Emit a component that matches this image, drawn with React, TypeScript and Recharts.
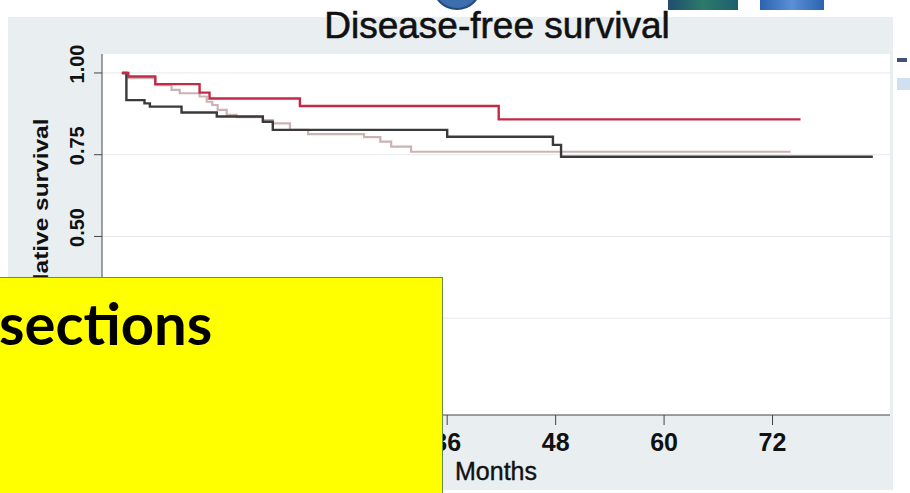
import React from 'react';
import { LineChart, Line, XAxis, YAxis, CartesianGrid } from 'recharts';

// Kaplan-Meier step data (months, cumulative survival)
const redTime = [0, 0.7, 3.7, 8.6, 9.7, 19.7, 41.7, 75.1];
const redSurv = [1, 0.989, 0.966, 0.94, 0.922, 0.899, 0.858, 0.858];

const darkTime = [0, 0.5, 2.5, 3.1, 6.6, 10.5, 15.6, 16.7, 36.0, 47.7, 48.6, 83.1];
const darkSurv = [1, 0.917, 0.907, 0.897, 0.879, 0.867, 0.851, 0.826, 0.805, 0.78, 0.744, 0.744];

const lightTime = [0, 0.7, 3.7, 5.5, 6.4, 8.6, 9.4, 10.0, 10.6, 11.6, 12.7, 15.6, 16.7, 18.6, 20.6, 26.8, 28.6, 29.8, 32.0, 74.0];
const lightSurv = [1, 0.984, 0.963, 0.948, 0.938, 0.928, 0.912, 0.902, 0.887, 0.872, 0.865, 0.856, 0.846, 0.826, 0.813, 0.804, 0.79, 0.775, 0.759, 0.759];

const xTicks = [0, 12, 24, 36, 48, 60, 72];
const yTicks = [0, 0.25, 0.5, 0.75, 1];
const gridValues = [0.25, 0.5, 0.75, 1];
// tick labels hidden behind the yellow overlay in the reference
const hiddenXLabels = [0, 12, 24];
const hiddenYLabels = [0, 0.25];

const title = 'Disease-free survival';
const yTitle = 'Cumulative survival';
const xTitle = 'Months';
const overlayText = 'sections';

const toRows = (t: number[], s: number[]) => t.map((v, i) => ({ t: v, s: s[i] }));
const redData = toRows(redTime, redSurv);
const darkData = toRows(darkTime, darkSurv);
const lightData = toRows(lightTime, lightSurv);

const FONT = '"Liberation Sans", Arial, sans-serif';

const XTick = (props: any) => {
  const { x, y, payload } = props;
  if (hiddenXLabels.includes(payload.value)) return <g />;
  return (
    <text x={x} y={y + 24} textAnchor="middle" fontFamily={FONT} fontSize={25} fontWeight="bold" fill="#111">
      {payload.value}
    </text>
  );
};

const YTick = (props: any) => {
  const { x, y, payload } = props;
  if (hiddenYLabels.includes(payload.value)) return <g />;
  const bx = x - 8;
  const by = y - 9;
  return (
    <text
      x={bx}
      y={by}
      transform={`rotate(-90, ${bx}, ${by})`}
      textAnchor="middle"
      fontFamily={FONT}
      fontSize={20}
      fontWeight="bold"
      fill="#111"
    >
      {Number(payload.value).toFixed(2)}
    </text>
  );
};

const YTitle = () => (
  <text
    x={48}
    y={234}
    transform="rotate(-90, 48, 234)"
    textAnchor="middle"
    fontFamily={FONT}
    fontSize={21}
    fontWeight="bold"
    fill="#111"
    textLength={231}
    lengthAdjust="spacingAndGlyphs"
  >
    {yTitle}
  </text>
);

const XTitle = () => (
  <text x={496} y={480} textAnchor="middle" fontFamily={FONT} fontSize={25} fill="#111" stroke="#111" strokeWidth={0.4}>
    {xTitle}
  </text>
);

export default function App() {
  return (
    <div style={{ position: 'absolute', left: 0, top: 0, width: 910, height: 493, background: '#ffffff', overflow: 'hidden' }}>
      {/* slide decorations at top */}
      <div style={{ position: 'absolute', left: 432, top: -40, width: 46, height: 46, borderRadius: '50%', background: '#3d6fae', border: '2px solid #24497a' }} />
      <div style={{ position: 'absolute', left: 668, top: 0, width: 70, height: 10, background: 'linear-gradient(90deg,#1f4e6e,#2d7a6a,#1d5f72)' }} />
      <div style={{ position: 'absolute', left: 760, top: 0, width: 64, height: 10, background: 'linear-gradient(90deg,#2a63b0,#5b8fd6,#2a63b0)' }} />
      {/* outer grey panel */}
      <div style={{ position: 'absolute', left: 8, top: 17, width: 885, height: 473, background: '#e9eef1' }} />
      {/* right strip details */}
      <div style={{ position: 'absolute', left: 897, top: 78, width: 13, height: 12, background: '#cfe0f0' }} />
      <div style={{ position: 'absolute', left: 897, top: 58, width: 10, height: 4, background: '#44507a' }} />

      <div style={{ position: 'absolute', left: 0, top: 0 }}>
        <LineChart width={910} height={493} data={lightData} margin={{ top: 54, right: 20, bottom: 0, left: 0 }}>
          <CartesianGrid horizontal vertical={false} horizontalValues={gridValues} stroke="#e6e8ea" fill="#ffffff" />
          <XAxis
            type="number"
            dataKey="t"
            domain={[-2.2, 85]}
            ticks={xTicks}
            allowDataOverflow
            tick={<XTick />}
            tickSize={10}
            stroke="#444"
            height={78}
            label={<XTitle />}
          />
          <YAxis
            type="number"
            dataKey="s"
            domain={[-0.046, 1.058]}
            ticks={yTicks}
            allowDataOverflow
            tick={<YTick />}
            tickSize={8}
            stroke="#444"
            width={102}
            label={<YTitle />}
          />
          <Line data={lightData} dataKey="s" type="stepAfter" stroke="#cbb3b3" strokeWidth={2.2} dot={false} isAnimationActive={false} />
          <Line data={darkData} dataKey="s" type="stepAfter" stroke="#3a3a3a" strokeWidth={2.4} dot={false} isAnimationActive={false} />
          <Line data={redData} dataKey="s" type="stepAfter" stroke="#c42a46" strokeWidth={2.4} dot={false} isAnimationActive={false} />
        </LineChart>
      </div>

      {/* title */}
      <div
        style={{
          position: 'absolute',
          left: 0,
          top: 6,
          width: 994,
          textAlign: 'center',
          fontFamily: FONT,
          fontSize: 37,
          lineHeight: '40px',
          color: '#111',
          WebkitTextStroke: '0.6px #111',
        }}
      >
        {title}
      </div>

      {/* yellow overlay box */}
      <div
        style={{
          position: 'absolute',
          left: -2,
          top: 277,
          width: 444,
          height: 230,
          background: '#ffff00',
          borderTop: '1.5px solid #6b8b4a',
          borderRight: '1.5px solid #6b8b4a',
        }}
      >
        <svg width={444} height={230} style={{ display: 'block' }}>
          <text x={1} y={67} fontFamily="Lato, sans-serif" fontWeight="bold" fontSize={58} fill="#000">
            {overlayText}
          </text>
        </svg>
      </div>
    </div>
  );
}
